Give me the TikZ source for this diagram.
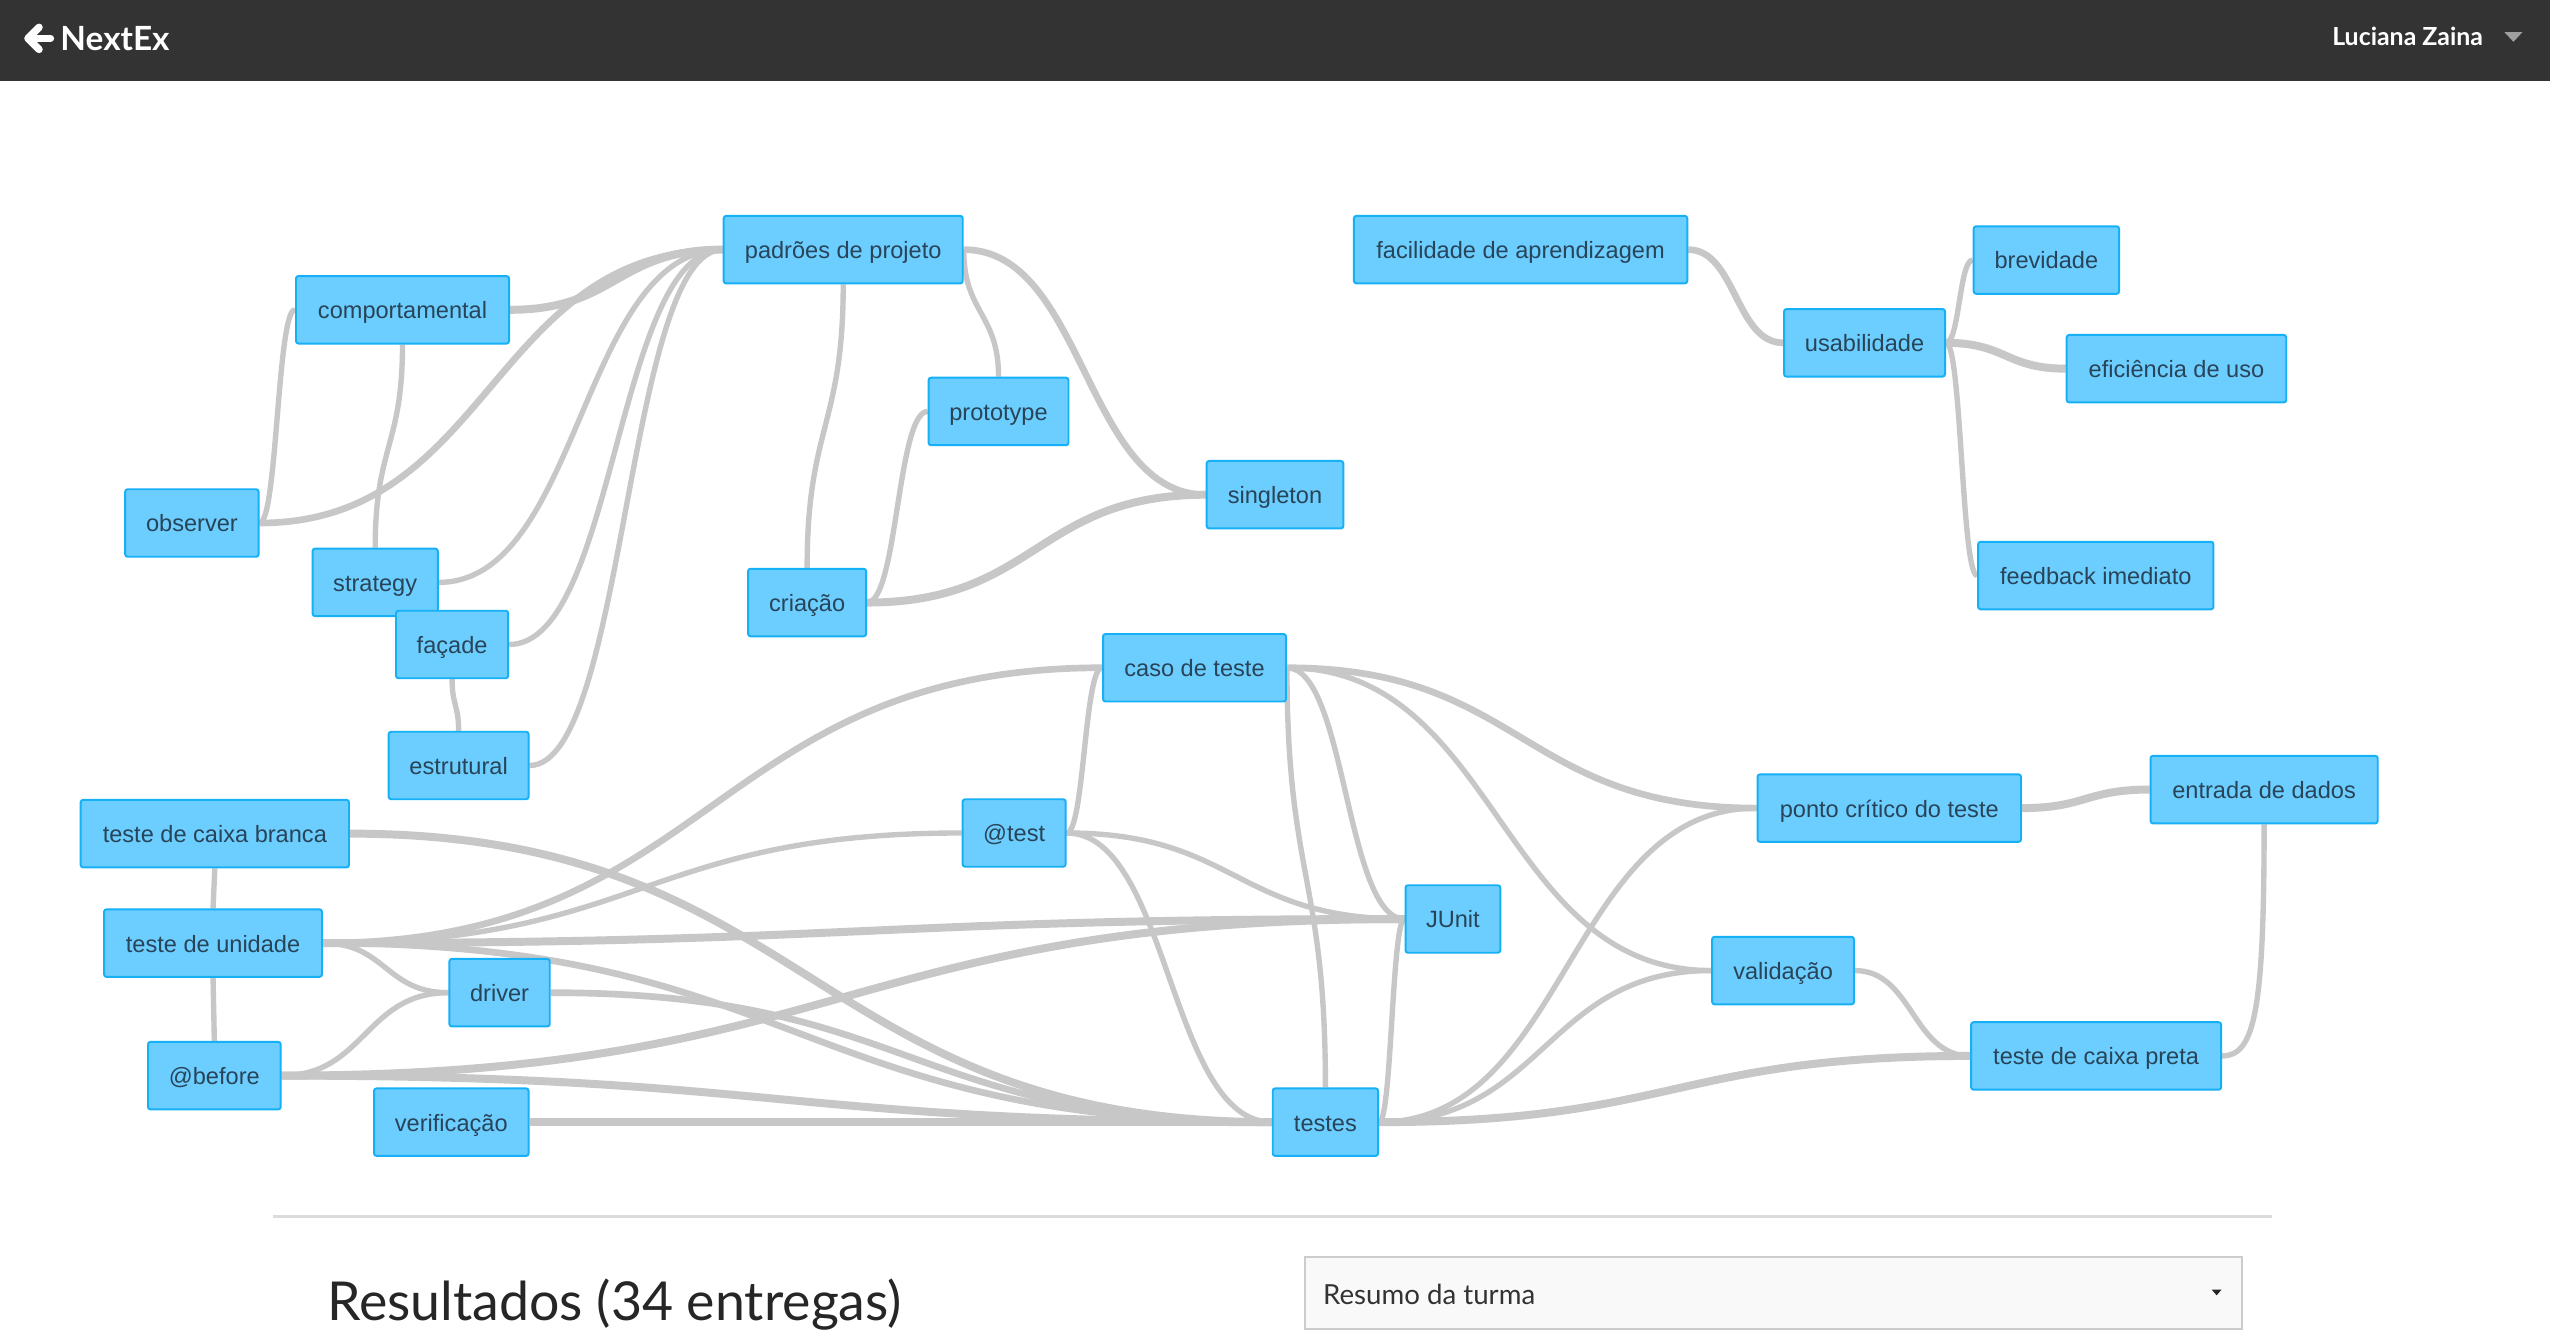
\documentclass[tikz,border=0pt]{standalone}
\usepackage{fontspec}
\setmainfont{Liberation Sans}
\newfontfamily\lato{Lato}
\usetikzlibrary{calc}
\pgfdeclarelayer{back}
\pgfdeclarelayer{edges}
\pgfsetlayers{back,edges,main}
\definecolor{nodefill}{RGB}{108,205,255}
\definecolor{nodeborder}{RGB}{22,176,246}
\definecolor{nodetext}{RGB}{40,68,88}
\definecolor{edgecol}{RGB}{199,199,199}
\definecolor{hdr}{RGB}{51,51,51}
\tikzset{
  nd/.style={draw=nodeborder, fill=nodefill, line width=1.2pt, rounded corners=1.5pt,
    inner sep=0pt, text=nodetext, minimum height=41.5pt,
    text height=14pt, text depth=3pt, font=\fontsize{14.5}{17}\selectfont},
  edge/.style={draw=edgecol, line width=3.3pt},
  edgem/.style={draw=edgecol, line width=4.1pt},
  edgek/.style={draw=edgecol, line width=4.9pt},
  hl/.style={to path={let \p1=(\tikztostart), \p2=(\tikztotarget) in
     .. controls ({(\x1+\x2)/2},\y1) and ({(\x1+\x2)/2},\y2) .. (\tikztotarget)}},
  vl/.style={to path={let \p1=(\tikztostart), \p2=(\tikztotarget) in
     .. controls (\x1,{(\y1+\y2)/2}) and (\x2,{(\y1+\y2)/2}) .. (\tikztotarget)}},
}
\begin{document}
\begin{tikzpicture}[x=1pt,y=-1pt]
\useasboundingbox (0,0) rectangle (1568,824);
\begin{pgfonlayer}{back}
  \fill[white] (0,0) rectangle (1568,824);
\end{pgfonlayer}

% header
\fill[hdr] (0,0) rectangle (1568,50);
\draw[white, line width=4.6pt, line cap=round, line join=round] (31,23.6) -- (19,23.6);
\draw[white, line width=4.6pt, line cap=round, line join=round] (24,16.8) -- (17.2,23.6) -- (24,30.4);
\node[anchor=base west, inner sep=0, text=white, font=\lato\bfseries\fontsize{20.5}{24}\selectfont] (brand) at (37,30.8) {NextEx};
\node[anchor=base east, inner sep=0, text=white, font=\lato\bfseries\fontsize{15.3}{18}\selectfont] (user) at (1527,27.7) {Luciana Zaina};
\fill[gray!75] (1540,19.8) -- (1551,19.8) -- (1545.5,25.7) -- cycle;

% nodes
\node[nd,minimum width=147pt] (pad) at (518.5,153.5) {padrões de projeto};
\node[nd,minimum width=131pt] (comp) at (247.5,190.5) {comportamental};
\node[nd,minimum width=82pt] (obs) at (118,321.6) {observer};
\node[nd,minimum width=77pt] (strat) at (230.7,358.1) {strategy};
\node[nd,minimum width=69pt] (fac) at (278,396.3) {façade};
\node[nd,minimum width=86pt] (estr) at (282,470.7) {estrutural};
\node[nd,minimum width=86pt] (proto) at (614,253) {prototype};
\node[nd,minimum width=72.6pt] (cria) at (496.3,370.5) {criação};
\node[nd,minimum width=84pt] (sing) at (784,304.2) {singleton};
\node[nd,minimum width=205pt] (facil) at (935,153.5) {facilidade de aprendizagem};
\node[nd,minimum width=99pt] (usab) at (1146.5,210.8) {usabilidade};
\node[nd,minimum width=89.4pt] (brev) at (1258.3,159.9) {brevidade};
\node[nd,minimum width=135pt] (efic) at (1338.3,226.7) {eficiência de uso};
\node[nd,minimum width=144.7pt] (feed) at (1288.7,353.9) {feedback imediato};
\node[nd,minimum width=112.5pt] (caso) at (734.5,410.6) {caso de teste};
\node[nd,minimum width=165pt] (branca) at (132.1,512.6) {teste de caixa branca};
\node[nd,minimum width=134pt] (unid) at (131,579.9) {teste de unidade};
\node[nd,minimum width=81.6pt] (before) at (131.8,661.4) {@before};
\node[nd,minimum width=61.7pt] (driver) at (307.2,610.4) {driver};
\node[nd,minimum width=95pt] (verif) at (277.5,690) {verificação};
\node[nd,minimum width=63.3pt] (attest) at (623.6,512.2) {@test};
\node[nd,minimum width=58.3pt] (junit) at (893.4,565.1) {JUnit};
\node[nd,minimum width=64.8pt] (testes) at (815,690) {testes};
\node[nd,minimum width=162pt] (ponto) at (1161.7,496.9) {ponto crítico do teste};
\node[nd,minimum width=139.7pt] (entrada) at (1392.2,485.5) {entrada de dados};
\node[nd,minimum width=87.2pt] (valid) at (1096.4,596.8) {validação};
\node[nd,minimum width=153.7pt] (cpreta) at (1288.9,649.3) {teste de caixa preta};

% edges
\begin{pgfonlayer}{edges}
\draw[edgek] (pad.west) to[hl] (comp.east);
\draw[edgem] (pad.west) to[hl] (obs.east);
\draw[edge] (pad.west) to[hl] (strat.east);
\draw[edge] (pad.west) to[hl] (fac.east);
\draw[edge] (pad.west) to[hl] (estr.east);
\draw[edge] (comp.west) to[hl] (obs.east);
\draw[edge] (comp.south) to[vl] (strat.north);
\draw[edge] (fac.south) to[vl] (estr.north);
\draw[edge] (pad.south) to[vl] (cria.north);
\draw[edge] (pad.east) to[vl] (proto.north);
\draw[edgem] (pad.east) to[hl] (sing.west);
\draw[edge] (proto.west) to[hl] (cria.east);
\draw[edgek] (cria.east) to[hl] (sing.west);
\draw[edgem] (facil.east) to[hl] (usab.west);
\draw[edge] (usab.east) to[hl] (brev.west);
\draw[edgek] (usab.east) to[hl] (efic.west);
\draw[edge] (usab.east) to[hl] (feed.west);
\draw[edge] (branca.south) to[vl] (unid.north);
\draw[edge] (unid.south) to[vl] (before.north);
\draw[edgek] (branca.east) to[hl] (testes.west);
\draw[edgem] (unid.east) to[hl] (caso.west);
\draw[edge] (unid.east) to[hl] (attest.west);
\draw[edgek] (unid.east) to[hl] (junit.west);
\draw[edge] (unid.east) to[hl] (driver.west);
\draw[edgem] (unid.east) to[hl] (testes.west);
\draw[edge] (before.east) to[hl] (driver.west);
\draw[edgek] (before.east) to[hl] (junit.west);
\draw[edgek] (before.east) to[hl] (testes.west);
\draw[edgem] (driver.east) to[hl] (testes.west);
\draw[edgek] (verif.east) to[hl] (testes.west);
\draw[edge] (caso.west) to[hl] (attest.east);
\draw[edge] (caso.east) to[vl] (testes.north);
\draw[edge] (caso.east) to[hl] (junit.west);
\draw[edgem] (caso.east) to[hl] (ponto.west);
\draw[edge] (caso.east) to[hl] (valid.west);
\draw[edge] (attest.east) to[hl] (junit.west);
\draw[edge] (attest.east) to[hl] (testes.west);
\draw[edge] (junit.west) to[hl] (testes.east);
\draw[edge] (testes.east) to[hl] (ponto.west);
\draw[edge] (testes.east) to[hl] (valid.west);
\draw[edgek] (testes.east) to[hl] (cpreta.west);
\draw[edgek] (ponto.east) to[hl] (entrada.west);
\draw[edge] (valid.east) to[hl] (cpreta.west);
\draw[edge] (entrada.south) .. controls +(0,115) and +(20,0) .. (cpreta.east);
\end{pgfonlayer}

% footer
\draw[gray!28, line width=1.3pt] (168,748) -- (1397,748);
\node[anchor=base west, inner sep=0, text=black!85, font=\lato\fontsize{33}{38}\selectfont] (res) at (201,811.7) {Resultados (34 entregas)};
\node[draw=gray!40, fill=gray!5, line width=1.3pt, minimum width=576pt, minimum height=44pt, inner sep=0pt] (sel) at (1090.5,795) {};
\node[anchor=base west, inner sep=0, text=black!80, font=\lato\fontsize{17}{20}\selectfont] (seltext) at (813.4,801.9) {Resumo da turma};
\fill[black!85] (1360,793) -- (1366,793) -- (1363,796.5) -- cycle;
\end{tikzpicture}
\end{document}
